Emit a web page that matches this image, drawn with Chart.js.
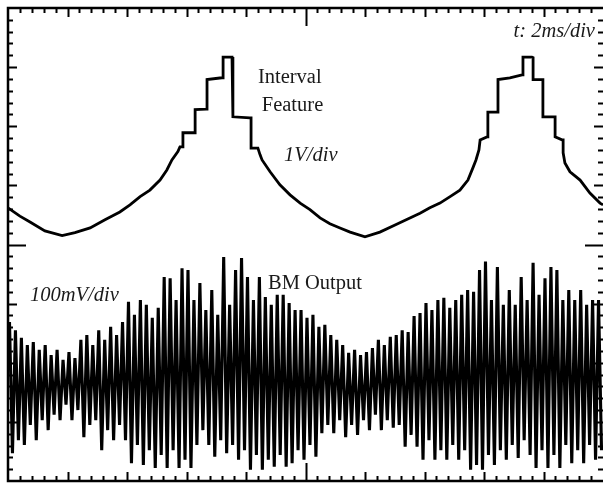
<!DOCTYPE html>
<html>
<head>
<meta charset="utf-8">
<script src="https://cdn.jsdelivr.net/npm/chart.js@4.4.1/dist/chart.umd.min.js"></script>
<style>
  html, body { margin: 0; padding: 0; background: #fff; }
  #wrap { width: 606px; height: 485px; }
</style>
</head>
<body>
<div id="wrap"><canvas id="grafico" width="606" height="485"></canvas></div>
<script>
// Escala del osciloscopio: tiempo en ms (2 ms/div, 10 div) y altura en divisiones (8 div)
const xMajor = [0, 2, 4, 6, 8, 10, 12, 14, 16, 18, 20];
const yMajor = [0, 1, 2, 3, 4, 5, 6, 7, 8];
const minorPerDiv = 5;

// Traza superior "Interval Feature" (ms, divisiones)
const intervalT = [0, 0.40, 0.74, 1.24, 1.82, 2.25, 2.76, 3.26, 3.76, 4.10, 4.44, 4.77, 5.11, 5.34, 5.51, 5.71, 5.78, 5.88, 5.88, 6.22, 6.29, 6.29, 6.66, 6.69, 6.69, 7.19, 7.23, 7.23, 7.53, 7.56, 7.56, 8.13, 8.17, 8.17, 8.40, 8.47, 8.54, 8.81, 9.14, 9.48, 9.82, 10.15, 10.49, 10.82, 11.16, 11.50, 12.00, 12.50, 13.01, 13.51, 13.85, 14.18, 14.52, 14.86, 15.19, 15.46, 15.63, 15.73, 15.83, 15.87, 16.10, 16.13, 16.13, 16.44, 16.47, 16.47, 16.87, 17.28, 17.31, 17.31, 17.61, 17.65, 17.65, 17.98, 17.98, 18.32, 18.39, 18.39, 18.62, 18.66, 18.66, 18.72, 18.89, 19.23, 19.56, 19.90, 20.00];
const intervalV = [4.62, 4.48, 4.38, 4.23, 4.15, 4.20, 4.28, 4.42, 4.55, 4.67, 4.81, 4.92, 5.09, 5.26, 5.43, 5.57, 5.65, 5.65, 5.89, 5.89, 5.89, 6.28, 6.29, 6.29, 6.79, 6.82, 6.82, 7.17, 7.17, 7.17, 6.16, 6.14, 6.14, 5.63, 5.63, 5.52, 5.43, 5.23, 5.01, 4.84, 4.70, 4.59, 4.45, 4.35, 4.28, 4.21, 4.13, 4.21, 4.33, 4.45, 4.53, 4.62, 4.70, 4.81, 4.92, 5.09, 5.30, 5.43, 5.60, 5.77, 5.82, 5.82, 6.24, 6.24, 6.24, 6.79, 6.82, 6.87, 6.87, 7.17, 7.17, 7.16, 6.79, 6.79, 6.16, 6.16, 6.16, 5.82, 5.77, 5.77, 5.55, 5.38, 5.23, 5.09, 4.87, 4.70, 4.67];

// Traza inferior "BM Output": máximo y mínimo de cada ciclo (periodo 0.2 ms)
const bmPeriod = 0.2;
const bmHigh = [2.69, 2.55, 2.42, 2.30, 2.35, 2.22, 2.30, 2.13, 2.22, 2.05, 2.18, 2.08, 2.39, 2.47, 2.30, 2.55, 2.39, 2.61, 2.47, 2.69,
  3.03, 2.81, 3.06, 2.98, 2.76, 2.93, 3.45, 3.43, 3.06, 3.60, 3.57, 3.06, 3.35, 2.89, 3.23, 2.81, 3.79, 2.98, 3.57, 3.77,
  3.45, 3.06, 3.45, 3.11, 2.98, 3.15, 3.15, 3.01, 2.89, 2.89, 2.76, 2.81, 2.61, 2.64, 2.47, 2.39, 2.30, 2.17, 2.22, 2.13,
  2.18, 2.25, 2.39, 2.30, 2.44, 2.47, 2.55, 2.52, 2.79, 2.84, 3.01, 2.89, 3.06, 3.10, 2.93, 3.06, 3.15, 3.23, 3.20, 3.57,
  3.71, 3.06, 3.62, 2.98, 3.23, 2.98, 3.45, 3.06, 3.69, 3.15, 3.43, 3.62, 3.57, 3.06, 3.23, 3.06, 3.23, 2.98, 3.06, 3.06];
const bmLow = [0.47, 0.69, 0.61, 0.95, 0.69, 1.03, 0.86, 1.12, 1.03, 1.29, 1.03, 1.20, 0.74, 0.95, 1.03, 0.52, 0.86, 0.69, 0.95, 0.69,
  0.30, 0.61, 0.27, 0.52, 0.22, 0.44, 0.22, 0.52, 0.22, 0.36, 0.22, 0.61, 0.86, 0.61, 0.41, 0.69, 0.47, 0.61, 0.36, 0.52,
  0.19, 0.44, 0.19, 0.36, 0.24, 0.44, 0.24, 0.30, 0.52, 0.36, 0.61, 0.41, 0.81, 0.95, 0.81, 1.03, 0.74, 0.95, 0.78, 1.03,
  0.86, 1.12, 0.86, 1.03, 0.90, 0.95, 0.58, 0.78, 0.58, 0.36, 0.69, 0.36, 0.52, 0.36, 0.61, 0.36, 0.52, 0.19, 0.27, 0.19,
  0.44, 0.27, 0.52, 0.36, 0.61, 0.39, 0.69, 0.44, 0.22, 0.52, 0.22, 0.44, 0.22, 0.61, 0.30, 0.52, 0.30, 0.61, 0.36, 0.52];

// Textos del gráfico: [texto, t (ms), divisiones, fuente, alineación]
const labels = [
  ["t: 2ms/div", 19.73, 7.51, "italic 20.5px 'Liberation Serif'", "right"],
  ["Interval", 8.40, 6.73, "20.5px 'Liberation Serif'", "left"],
  ["Feature", 8.53, 6.25, "20.5px 'Liberation Serif'", "left"],
  ["1V/div", 9.28, 5.42, "italic 20.5px 'Liberation Serif'", "left"],
  ["100mV/div", 0.74, 3.04, "italic 20.5px 'Liberation Serif'", "left"],
  ["BM Output", 8.74, 3.25, "20.5px 'Liberation Serif'", "left"],
];

// Construimos los puntos de cada traza
const intervalPts = intervalT.map((t, i) => ({ x: t, y: intervalV[i] }));
const bmPts = [];
bmHigh.forEach((v, i) => {
  bmPts.push({ x: i * bmPeriod + bmPeriod * 0.25, y: v });
  bmPts.push({ x: i * bmPeriod + bmPeriod * 0.75, y: bmLow[i] });
});

// Marco con marcas hacia dentro, como en la pantalla del osciloscopio
const marcoOsc = {
  id: "marcoOsc",
  afterDatasetsDraw(chart) {
    const { ctx, chartArea: a, scales: { x, y } } = chart;
    ctx.save();
    ctx.strokeStyle = "#000";
    ctx.lineWidth = 2.5;
    ctx.beginPath();
    ctx.moveTo(a.right, a.top);
    ctx.lineTo(a.left, a.top);
    ctx.lineTo(a.left, a.bottom);
    ctx.lineTo(a.right, a.bottom);
    ctx.stroke();

    ctx.lineWidth = 2;
    ctx.beginPath();
    const nx = (xMajor.length - 1) * minorPerDiv;
    for (let k = 1; k < nx; k++) {
      const v = xMajor[0] + (k / minorPerDiv) * (xMajor[1] - xMajor[0]);
      const px = Math.round(x.getPixelForValue(v)) + 0.5;
      const len = k === nx / 2 ? 18 : (k % minorPerDiv === 0 ? 9 : 5);
      ctx.moveTo(px, a.top); ctx.lineTo(px, a.top + len);
      ctx.moveTo(px, a.bottom); ctx.lineTo(px, a.bottom - len);
    }
    const ny = (yMajor.length - 1) * minorPerDiv;
    for (let k = 1; k < ny; k++) {
      const v = yMajor[0] + (k / minorPerDiv) * (yMajor[1] - yMajor[0]);
      const py = Math.round(y.getPixelForValue(v)) + 0.5;
      const len = k === ny / 2 ? 18 : (k % minorPerDiv === 0 ? 9 : 5);
      ctx.moveTo(a.left, py); ctx.lineTo(a.left + len, py);
      ctx.moveTo(a.right, py); ctx.lineTo(a.right - len, py);
    }
    ctx.stroke();

    // Textos
    ctx.fillStyle = "#1a1a1a";
    ctx.textBaseline = "alphabetic";
    labels.forEach(([txt, t, d, font, align]) => {
      ctx.font = font;
      ctx.textAlign = align;
      ctx.fillText(txt, x.getPixelForValue(t), y.getPixelForValue(d));
    });
    ctx.restore();
  },
};

new Chart(document.getElementById("grafico"), {
  type: "line",
  data: {
    datasets: [
      {
        label: "Interval Feature",
        data: intervalPts,
        borderColor: "#000",
        borderWidth: 2.8,
        pointRadius: 0,
        tension: 0,
      },
      {
        label: "BM Output",
        data: bmPts,
        borderColor: "#000",
        borderWidth: 3.1,
        pointRadius: 0,
        tension: 0,
      },
    ],
  },
  options: {
    responsive: false,
    animation: false,
    layout: { padding: { left: 8, top: 8, right: 3, bottom: 4 } },
    plugins: { legend: { display: false }, tooltip: { enabled: false } },
    scales: {
      x: { type: "linear", min: 0, max: 20, display: false },
      y: { type: "linear", min: 0, max: 8, display: false },
    },
  },
  plugins: [marcoOsc],
});
</script>
</body>
</html>
